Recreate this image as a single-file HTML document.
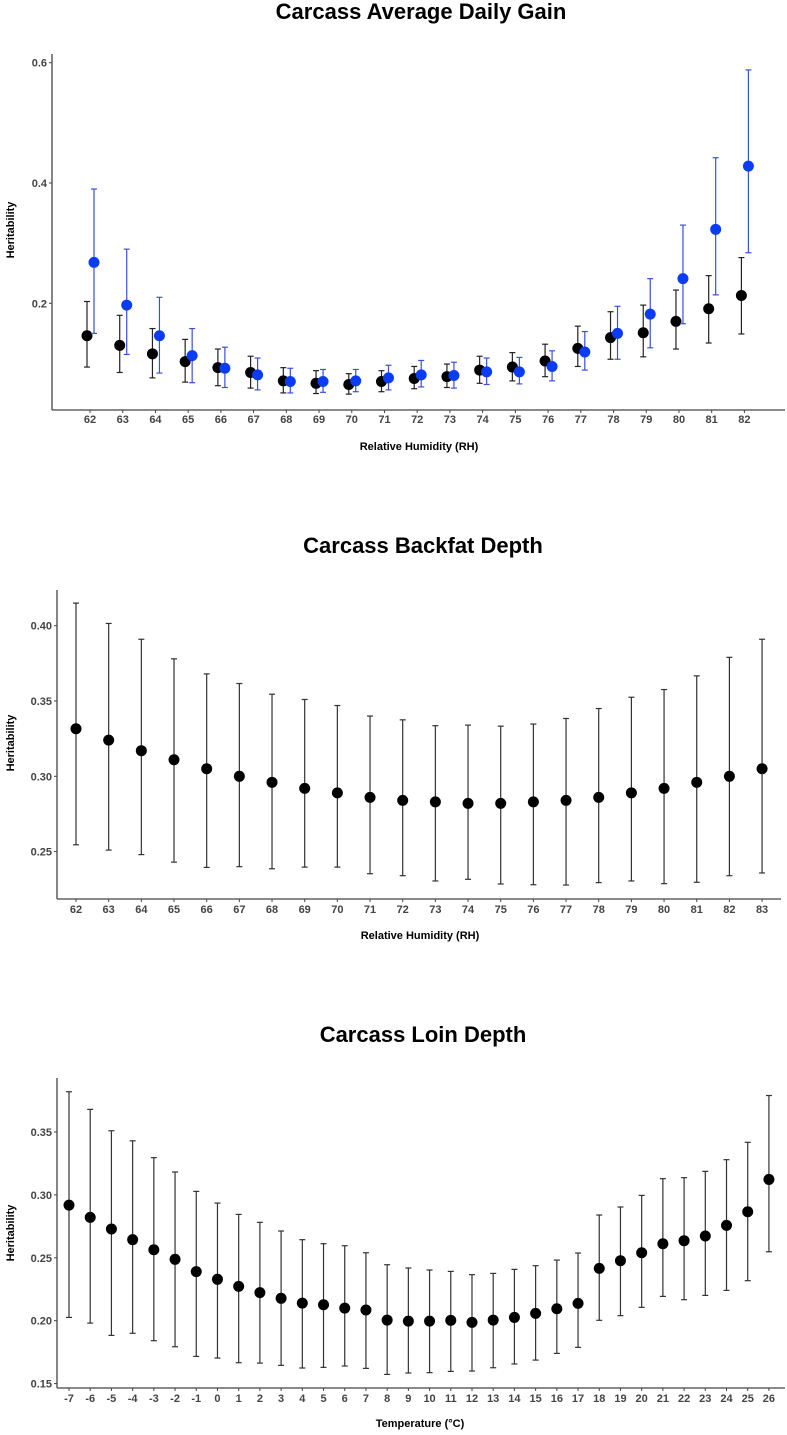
<!DOCTYPE html>
<html><head><meta charset="utf-8"><style>
body{margin:0;background:#fff}
svg{display:block;font-family:"Liberation Sans",Arial,sans-serif}
.tk{font-size:11px;font-weight:bold;fill:#444}
.tt{font-size:22px;font-weight:bold;fill:#000}
.at{font-size:11px;font-weight:bold;fill:#000}
</style></head><body>
<svg id="s" width="787" height="1435" viewBox="0 0 787 1435">
<text class="tt" x="421" y="19" text-anchor="middle">Carcass Average Daily Gain</text>
<text class="tt" x="423" y="553" text-anchor="middle">Carcass Backfat Depth</text>
<text class="tt" x="423" y="1042" text-anchor="middle">Carcass Loin Depth</text>
<text class="at" x="419" y="450" text-anchor="middle">Relative Humidity (RH)</text>
<text class="at" x="420" y="939" text-anchor="middle">Relative Humidity (RH)</text>
<text class="at" x="420" y="1427" text-anchor="middle">Temperature (°C)</text>
<text class="at" transform="translate(14,230) rotate(-90)" text-anchor="middle">Heritability</text>
<text class="at" transform="translate(14,743) rotate(-90)" text-anchor="middle">Heritability</text>
<text class="at" transform="translate(14,1233) rotate(-90)" text-anchor="middle">Heritability</text>
</svg>
<script>
// Chart 1 data
const c1Cats=[62,63,64,65,66,67,68,69,70,71,72,73,74,75,76,77,78,79,80,81,82];
const c1BlackMean=[0.146,0.130,0.116,0.103,0.093,0.085,0.071,0.067,0.065,0.070,0.075,0.078,0.089,0.094,0.104,0.125,0.143,0.151,0.170,0.191,0.213];
const c1BlackLo=[0.094,0.085,0.076,0.069,0.063,0.059,0.051,0.050,0.049,0.053,0.058,0.060,0.067,0.071,0.078,0.095,0.107,0.111,0.124,0.134,0.149];
const c1BlackHi=[0.203,0.180,0.158,0.140,0.124,0.112,0.093,0.088,0.083,0.088,0.095,0.099,0.112,0.118,0.132,0.162,0.186,0.197,0.222,0.246,0.276];
const c1BlueMean=[0.268,0.197,0.146,0.113,0.092,0.081,0.070,0.070,0.071,0.076,0.081,0.080,0.086,0.086,0.095,0.119,0.150,0.182,0.241,0.323,0.428];
const c1BlueLo=[0.150,0.115,0.084,0.068,0.060,0.056,0.051,0.052,0.053,0.056,0.061,0.059,0.065,0.066,0.071,0.089,0.107,0.126,0.166,0.214,0.284];
const c1BlueHi=[0.390,0.290,0.210,0.158,0.127,0.109,0.092,0.090,0.090,0.097,0.105,0.102,0.109,0.110,0.121,0.153,0.195,0.241,0.330,0.442,0.588];
const c1YTicks=[0.2,0.4,0.6];
const c1YLabels=["0.2","0.4","0.6"];
// Chart 2 data
const c2Cats=[62,63,64,65,66,67,68,69,70,71,72,73,74,75,76,77,78,79,80,81,82,83];
const c2Mean=[0.3316,0.324,0.317,0.311,0.305,0.300,0.296,0.292,0.289,0.286,0.284,0.283,0.282,0.282,0.283,0.284,0.286,0.289,0.292,0.296,0.300,0.305];
const c2Hi=[0.415,0.4015,0.391,0.378,0.368,0.3616,0.3545,0.351,0.347,0.340,0.3375,0.3336,0.334,0.3333,0.3347,0.3384,0.345,0.3525,0.3576,0.3667,0.379,0.391];
const c2Lo=[0.2545,0.251,0.248,0.243,0.2395,0.240,0.2386,0.2397,0.2397,0.2353,0.234,0.2305,0.2316,0.2285,0.228,0.2278,0.2294,0.2305,0.2287,0.2296,0.234,0.2358];
const c2YTicks=[0.25,0.30,0.35,0.40];
const c2YLabels=["0.25","0.30","0.35","0.40"];
// Chart 3 data
const c3Cats=[-7,-6,-5,-4,-3,-2,-1,0,1,2,3,4,5,6,7,8,9,10,11,12,13,14,15,16,17,18,19,20,21,22,23,24,25,26];
const c3Mean=[0.2919,0.2821,0.2729,0.2644,0.2564,0.2488,0.239,0.2329,0.2273,0.2223,0.2178,0.214,0.2127,0.210,0.2085,0.2005,0.1997,0.1997,0.2003,0.1987,0.2005,0.2026,0.2058,0.2095,0.2138,0.2416,0.2477,0.254,0.2612,0.2636,0.2673,0.2758,0.2866,0.3123];
const c3Hi=[0.382,0.368,0.351,0.343,0.3296,0.3182,0.3028,0.2935,0.2845,0.2782,0.2713,0.2644,0.2612,0.2596,0.254,0.2445,0.2419,0.2403,0.2392,0.2366,0.2376,0.2408,0.2437,0.2482,0.2538,0.284,0.2904,0.2996,0.3129,0.3137,0.3187,0.328,0.3418,0.379];
const c3Lo=[0.2026,0.1981,0.1883,0.19,0.1841,0.1793,0.1716,0.1703,0.1666,0.1663,0.1645,0.1624,0.1629,0.164,0.1621,0.1573,0.1584,0.1587,0.1597,0.16,0.1626,0.1656,0.1687,0.174,0.1788,0.2003,0.204,0.2106,0.2193,0.2167,0.2201,0.2241,0.2318,0.2548];
const c3YTicks=[0.15,0.20,0.25,0.30,0.35];
const c3YLabels=["0.15","0.20","0.25","0.30","0.35"];

const NS="http://www.w3.org/2000/svg";
const svg=document.getElementById('s');
function mk(tag,attrs,parent){const e=document.createElementNS(NS,tag);for(const k in attrs)e.setAttribute(k,attrs[k]);(parent||svg).appendChild(e);return e;}

function axes(id,left,right,top,bottom,xS,yS,cats,yT,yL,labY){
  const g=mk('g',{});
  
  
  mk('line',{x1:left,y1:top,x2:left,y2:bottom,stroke:'#444','stroke-width':1.3},g);
  mk('line',{x1:left,y1:bottom,x2:right,y2:bottom,stroke:'#444','stroke-width':1.3},g);
  yT.forEach((v,i)=>{
    const y=yS(v);
    mk('line',{x1:left-3,y1:y,x2:left,y2:y,stroke:'#444'},g);
    const t=mk('text',{x:left-5,y:y+4,'text-anchor':'end',class:'tk'},g);
    t.textContent=yL[i];
    
    
  });
  cats.forEach(c=>{
    const x=xS(c);
    mk('line',{x1:x,y1:bottom,x2:x,y2:bottom+3,stroke:'#444'},g);
    const t=mk('text',{x:x,y:labY,'text-anchor':'middle',class:'tk'},g);
    t.textContent=String(c);
    
    
  });
}
function series(name,cats,mean,lo,hi,xS,yS,dx,color,barColor,r){
  const g=mk('g',{});
  
  
  cats.forEach((c,i)=>{
    const x=xS(c)+dx;
    mk('line',{x1:x,y1:yS(lo[i]),x2:x,y2:yS(hi[i]),stroke:barColor,'stroke-width':1.2},g);
    mk('line',{x1:x-3,y1:yS(lo[i]),x2:x+3,y2:yS(lo[i]),stroke:barColor,'stroke-width':1.2},g);
    mk('line',{x1:x-3,y1:yS(hi[i]),x2:x+3,y2:yS(hi[i]),stroke:barColor,'stroke-width':1.2},g);
    const p=mk('circle',{cx:x,cy:yS(mean[i]),r:r,fill:color},g);
    
    
  });
}
// Chart 1
{const xS=c=>90+(c-62)*32.72; const yS=v=>303.3-(v-0.2)*601.5;
 axes('chart1',52,785,54,410,xS,yS,c1Cats,c1YTicks,c1YLabels,423);
 series('chart1-series-black',c1Cats,c1BlackMean,c1BlackLo,c1BlackHi,xS,yS,-3,'#000','#222',5.5);
 series('chart1-series-blue',c1Cats,c1BlueMean,c1BlueLo,c1BlueHi,xS,yS,4,'#0a3cf5','#3b4fe0',5.5);}
// Chart 2
{const xS=c=>76+(c-62)*32.67; const yS=v=>776.3-(v-0.30)*1506;
 axes('chart2',57,781,590,899,xS,yS,c2Cats,c2YTicks,c2YLabels,913);
 series('chart2-series',c2Cats,c2Mean,c2Lo,c2Hi,xS,yS,0,'#000','#333',5.5);}
// Chart 3
{const xS=c=>69+(c+7)*21.21; const yS=v=>1320.7-(v-0.20)*1258;
 axes('chart3',57,785,1078,1388,xS,yS,c3Cats,c3YTicks,c3YLabels,1402);
 series('chart3-series',c3Cats,c3Mean,c3Lo,c3Hi,xS,yS,0,'#000','#333',5.5);}
</script>
</body></html>
